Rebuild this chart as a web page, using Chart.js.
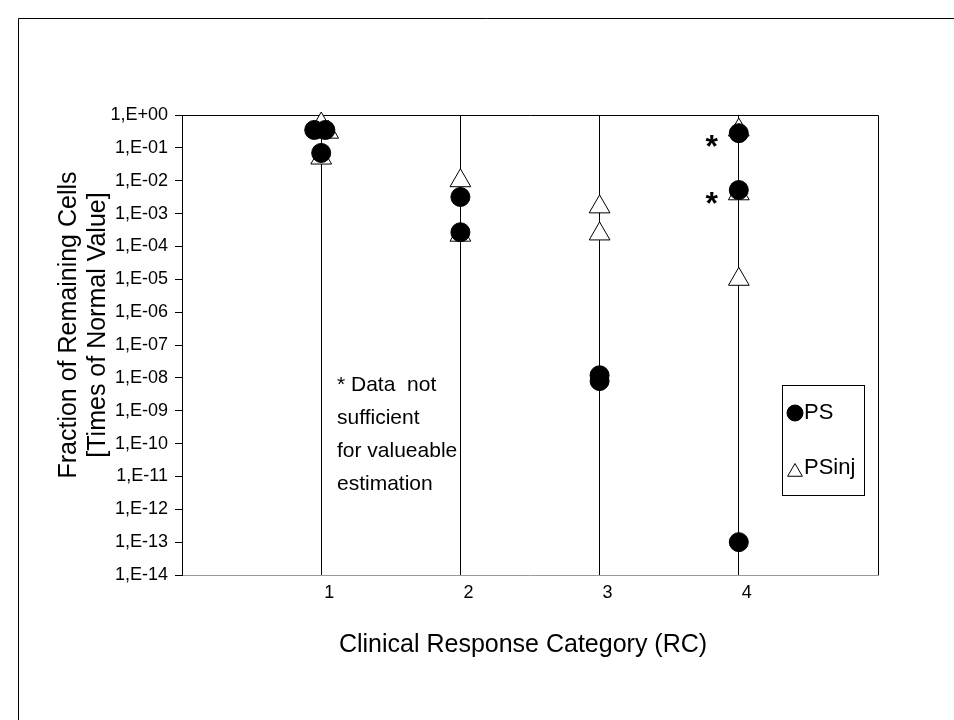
<!DOCTYPE html>
<html>
<head>
<meta charset="utf-8">
<script src="https://cdn.jsdelivr.net/npm/chart.js@4.4.1/dist/chart.umd.min.js"></script>
<style>
  html, body { margin: 0; padding: 0; background: #fff; }
  #wrap { width: 954px; height: 720px; position: relative; }
</style>
</head>
<body>
<div id="wrap"><canvas id="myChart" width="954" height="720"></canvas></div>
<script>
// categories on the x axis
var categories = ['1', '2', '3', '4'];

// PS (filled circles)
var psX = [0.95, 1.03, 1, 2, 2, 3, 3, 4, 4, 4];
var psY = [0.35, 0.35, 0.07, 0.0032, 0.00027, 1.2e-8, 8e-9, 0.28, 0.0052, 1e-13];

// PSinj (open triangles)
var psinjX = [1, 1.05, 1, 2, 2, 3, 3, 4, 4, 4];
var psinjY = [0.53, 0.30, 0.049, 0.010, 0.00022, 0.0016, 0.00024, 0.35, 0.004, 1e-5];

// y axis ticks
var yTickValues = [1, 1e-1, 1e-2, 1e-3, 1e-4, 1e-5, 1e-6, 1e-7, 1e-8, 1e-9, 1e-10, 1e-11, 1e-12, 1e-13, 1e-14];
var yTickLabels = ['1,E+00', '1,E-01', '1,E-02', '1,E-03', '1,E-04', '1,E-05', '1,E-06', '1,E-07',
                   '1,E-08', '1,E-09', '1,E-10', '1,E-11', '1,E-12', '1,E-13', '1,E-14'];

// points flagged with an asterisk (indexes into PS)
var starred = [7, 8];

var noteLines = ['* Data  not', 'sufficient', 'for valueable', 'estimation'];
var yTitle = ['Fraction of Remaining Cells', '[Times of Normal Value]'];
var xTitle = 'Clinical Response Category (RC)';

var FONT = "'Liberation Sans', Arial, sans-serif";

function toPoints(xs, ys) {
    return xs.map(function (x, i) { return { x: x, y: ys[i] }; });
}

var extras = {
    id: 'extras',
    beforeDatasetsDraw: function (chart) {
        var c = chart.ctx, a = chart.chartArea;
        c.save();
        c.strokeStyle = '#000';
        c.lineWidth = 1;
        c.beginPath();
        c.moveTo(a.left, a.top + 0.5);
        c.lineTo(a.right + 0.5, a.top + 0.5);
        c.lineTo(a.right + 0.5, a.bottom);
        c.stroke();
        c.restore();
    },
    afterDraw: function (chart) {
        var c = chart.ctx;
        var xs = chart.scales.x, ys = chart.scales.y;
        c.save();
        c.fillStyle = '#000';

        // outer frame
        c.strokeStyle = '#000';
        c.lineWidth = 1;
        c.beginPath();
        c.moveTo(18.5, 720);
        c.lineTo(18.5, 18.5);
        c.lineTo(954, 18.5);
        c.stroke();

        // axis titles
        c.font = '25px ' + FONT;
        c.textAlign = 'center';
        c.textBaseline = 'middle';
        c.fillText(xTitle, 523, 645);
        c.save();
        c.translate(69, 325);
        c.rotate(-Math.PI / 2);
        c.fillText(yTitle[0], 0, 0);
        c.restore();
        c.save();
        c.translate(98, 325);
        c.rotate(-Math.PI / 2);
        c.fillText(yTitle[1], 0, 0);
        c.restore();

        // note
        c.font = '21px ' + FONT;
        c.textAlign = 'left';
        noteLines.forEach(function (t, i) {
            c.fillText(t, 337, 385 + i * 33);
        });

        // asterisks
        c.font = 'bold 32px ' + FONT;
        c.textAlign = 'center';
        c.textBaseline = 'alphabetic';
        starred.forEach(function (i) {
            var px = xs.getPixelForValue(psX[i]) - 27;
            var py = ys.getPixelForValue(psY[i]) + 6;
            c.fillText('*', px, py + 18);
        });

        // legend
        c.strokeStyle = '#000';
        c.strokeRect(782.5, 385.5, 82, 110);
        c.fillStyle = '#000';
        Chart.helpers.drawPoint(c, { pointStyle: 'circle', radius: 8, rotation: 0, borderWidth: 1 }, 795, 413);
        c.fillStyle = '#fff';
        Chart.helpers.drawPoint(c, { pointStyle: 'triangle', radius: 8.5, rotation: 0, borderWidth: 1 }, 795, 472);
        c.fillStyle = '#000';
        c.font = '22px ' + FONT;
        c.textAlign = 'left';
        c.textBaseline = 'middle';
        c.fillText('PS', 804, 413);
        c.fillText('PSinj', 804, 468);
        c.restore();
    }
};

var ctx = document.getElementById('myChart').getContext('2d');

var myChart = new Chart(ctx, {
    type: 'scatter',
    data: {
        datasets: [{
            label: 'PS',
            data: toPoints(psX, psY),
            pointStyle: 'circle',
            pointRadius: 9.5,
            pointHoverRadius: 9.5,
            backgroundColor: '#000',
            borderColor: '#000',
            borderWidth: 1,
            clip: false
        }, {
            label: 'PSinj',
            data: toPoints(psinjX, psinjY),
            pointStyle: 'triangle',
            pointRadius: 12,
            pointHoverRadius: 12,
            backgroundColor: '#fff',
            borderColor: '#000',
            borderWidth: 1,
            clip: false
        }]
    },
    options: {
        responsive: false,
        animation: false,
        devicePixelRatio: 1,
        layout: { padding: { top: 115, right: 76, left: 0, bottom: 0 } },
        plugins: {
            legend: { display: false },
            tooltip: { enabled: false }
        },
        scales: {
            x: {
                type: 'linear',
                min: 0,
                max: 5,
                afterFit: function (s) { s.height = 145; },
                ticks: {
                    stepSize: 1,
                    autoSkip: false,
                    maxRotation: 0,
                    padding: 7,
                    labelOffset: 8,
                    color: '#000',
                    font: { family: FONT, size: 18 },
                    callback: function (v) {
                        return categories[v - 1] !== undefined ? categories[v - 1] : '';
                    }
                },
                grid: {
                    drawTicks: false,
                    lineWidth: 1,
                    color: function (c) {
                        return (c.tick && c.tick.value >= 1 && c.tick.value <= 4) ? '#000' : 'rgba(0,0,0,0)';
                    }
                },
                border: { display: true, color: '#999', width: 1 }
            },
            y: {
                type: 'logarithmic',
                min: 1e-14,
                max: 1,
                afterFit: function (s) { s.width = 182; },
                afterBuildTicks: function (s) {
                    s.ticks = yTickValues.map(function (v) { return { value: v }; });
                },
                ticks: {
                    padding: 7,
                    color: '#000',
                    font: { family: FONT, size: 18 },
                    callback: function (v, i) { return yTickLabels[i]; }
                },
                grid: {
                    drawOnChartArea: false,
                    drawTicks: true,
                    tickLength: 7,
                    tickColor: '#000'
                },
                border: { display: true, color: '#000', width: 1 }
            }
        }
    },
    plugins: [extras]
});
</script>
</body>
</html>
